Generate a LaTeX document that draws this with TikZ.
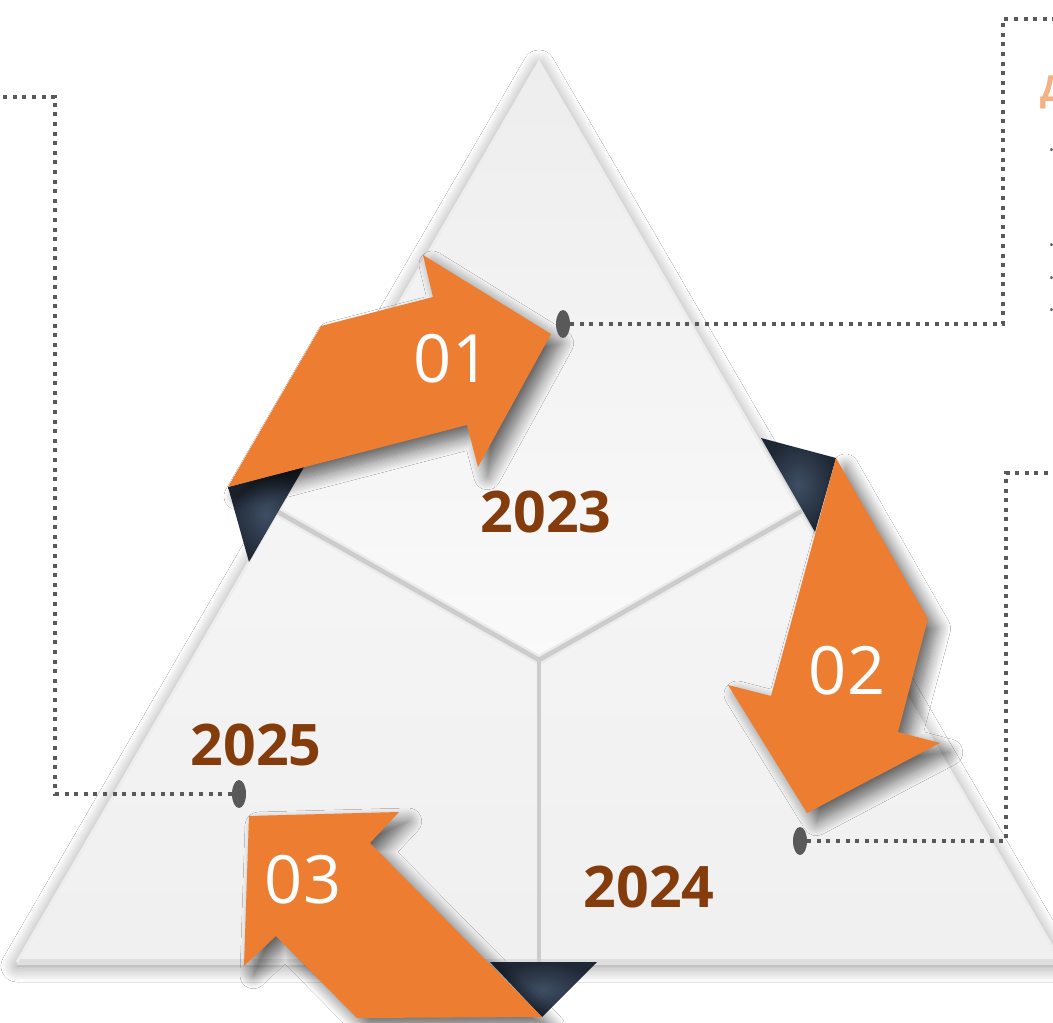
\documentclass[tikz,border=0pt]{standalone}
\usepackage{fontspec}
\setmainfont{Open Sans}
\usetikzlibrary{shapes.geometric,shadows.blur}
\definecolor{arrowor}{HTML}{ED7D31}
\definecolor{yearbr}{HTML}{843C0C}
\definecolor{peach}{HTML}{F4B183}
\definecolor{dgray}{HTML}{595959}
\definecolor{navyin}{HTML}{3F4E64}
\definecolor{navyout}{HTML}{1E2734}
\tikzset{
  arrowshape/.style={fill=arrowor, blur shadow={shadow xshift=7pt, shadow yshift=-7pt, shadow blur radius=10pt, shadow opacity=60, shadow blur steps=12}},
  foldshape/.style={inner color=navyin, outer color=navyout},
  divider/.style={draw=black!20, line width=3.5pt, line cap=round},
  conn/.style={draw=dgray, line width=3pt, dash pattern=on 3pt off 4.2pt},
  marker/.style={ellipse, fill=dgray, minimum width=10.5pt, minimum height=21pt, inner sep=0pt},
  year/.style={text=yearbr, font=\fontsize{43}{50}\selectfont\bfseries, inner sep=0pt},
  num/.style={text=white, font=\fontsize{50}{56}\selectfont, inner sep=0pt},
  bullet/.style={text=dgray, font=\fontsize{9}{10}\selectfont, anchor=west, inner sep=0pt}
}
\begin{document}
\begin{tikzpicture}[x=0.75pt,y=-0.75pt]
\useasboundingbox (0,0) rectangle (1053,1023);
\fill[white] (0,0) rectangle (1053,1023);
% main triangle with shadow
\coordinate (apex) at (539,62);
\coordinate (bl) at (17,962);
\coordinate (br) at (1061,962);
\coordinate (ml) at (278,512);
\coordinate (mr) at (800,512);
\coordinate (mb) at (539,962);
\coordinate (ctr) at (539,660);
\fill[black!5, blur shadow={shadow xshift=0pt, shadow yshift=-3pt, shadow blur radius=12pt, shadow opacity=45, shadow blur steps=12}] (apex) -- (br) -- (bl) -- cycle;
% kites
\shade[top color=black!7, bottom color=black!2] (apex) -- (mr) -- (ctr) -- (ml) -- cycle;
\shade[top color=black!4, bottom color=black!6] (ml) -- (ctr) -- (mb) -- (bl) -- cycle;
\shade[top color=black!4, bottom color=black!6] (mr) -- (br) -- (mb) -- (ctr) -- cycle;
\draw[black!13, line width=4pt] (bl) -- (br);
\draw[black!7, line width=2pt] (bl) -- (apex) -- (br);
% dividers
\draw[black!8, line width=7pt] (ml) -- (ctr) -- (mr);
\draw[divider] (ml) -- (ctr) -- (mr);
\draw[divider] (ctr) -- (mb);
% folds
\shade[foldshape] (228,487) -- (304,467) -- (249,562) -- cycle;
\shade[foldshape] (761,438) -- (836,458) -- (815,532) -- cycle;
\shade[foldshape] (490,962) -- (597,962) -- (542,1017) -- cycle;
% arrows
\fill[arrowshape] (228,487) -- (321,326) -- (433,297) -- (423,255) -- (551,334) -- (478,467) -- (467,425) -- cycle;
\fill[arrowshape] (836,458) -- (928,619) -- (898,732) -- (940,743) -- (807,813) -- (728,685) -- (771,696) -- cycle;
\fill[arrowshape] (542,1017) -- (357,1018) -- (276,936) -- (244,966) -- (249,816) -- (399,812) -- (370,843) -- cycle;
% numbers
\node[num] (n1) at (452,359) {01};
\node[num] (n2) at (847,671) {02};
\node[num] (n3) at (303,880) {03};
% years
\node[year] (y1) at (546,512) {2023};
\node[year] (y2) at (256,745) {2025};
\node[year] (y3) at (649,887) {2024};
% connectors
\node[marker] (e1) at (563,324) {};
\node[marker] (e2) at (800,841) {};
\node[marker] (e3) at (239,794) {};
\coordinate (c1a) at (1003,324);
\coordinate (c1b) at (1003,19);
\coordinate (c1c) at (1060,19);
\coordinate (c2a) at (1006,841);
\coordinate (c2b) at (1006,473);
\coordinate (c2c) at (1060,473);
\coordinate (c3a) at (55,794);
\coordinate (c3b) at (55,97);
\coordinate (c3c) at (-10,97);
\draw[conn] (e1.east) -- (c1a) -- (c1b) -- (c1c);
\draw[conn] (e2.east) -- (c2a) -- (c2b) -- (c2c);
\draw[conn] (e3.west) -- (c3a) -- (c3b) -- (c3c);
% cut-off text at right edge
\node[text=peach, font=\fontsize{27}{30}\selectfont\bfseries, anchor=base west, inner sep=0pt] (t1) at (1040,102) {Д};
\node[bullet] (b1) at (1049,152) {•};
\node[bullet] (b2) at (1049,247) {•};
\node[bullet] (b3) at (1049,280) {•};
\node[bullet] (b4) at (1049,312) {•};
\end{tikzpicture}
\end{document}
